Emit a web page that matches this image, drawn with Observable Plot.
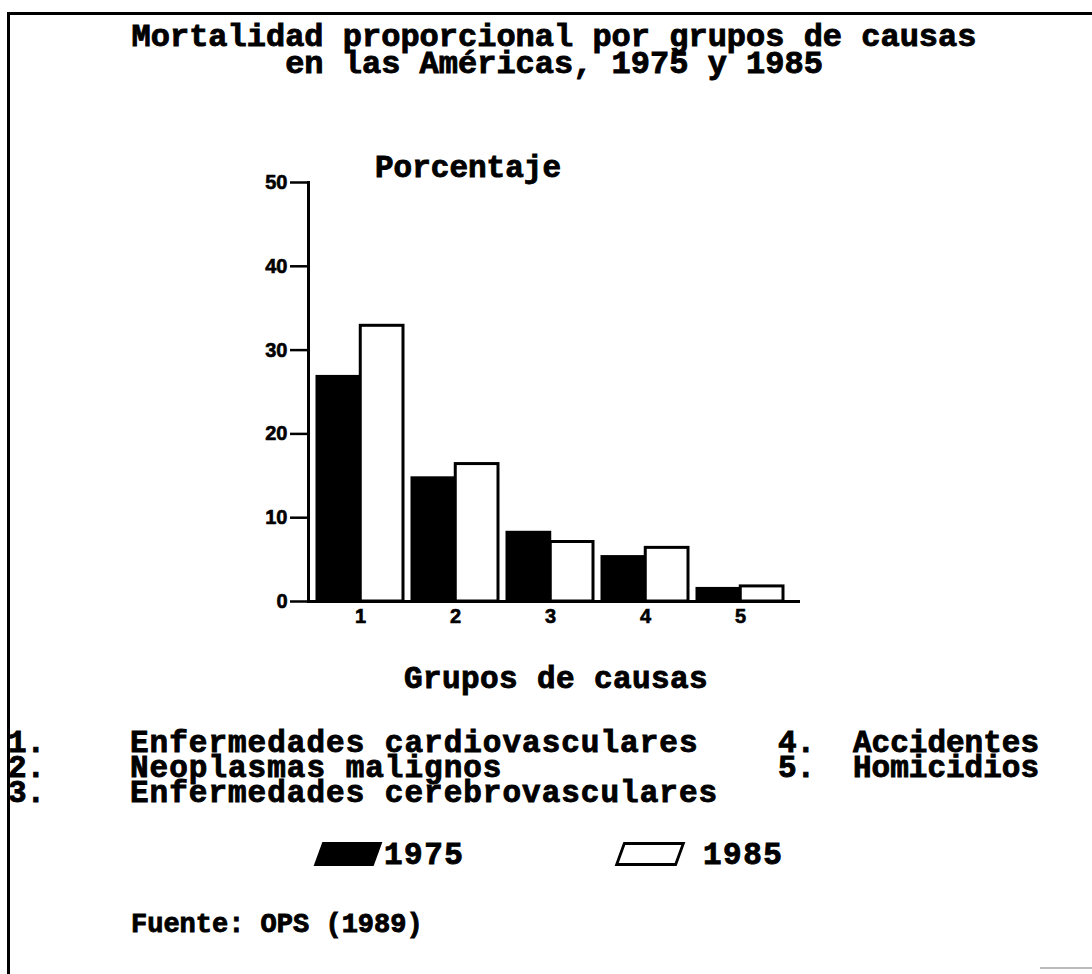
<!DOCTYPE html>
<html>
<head>
<meta charset="utf-8">
<script src="https://cdn.jsdelivr.net/npm/d3@7"></script>
<script src="https://cdn.jsdelivr.net/npm/@observablehq/plot@0.6"></script>
<style>
  html, body { margin: 0; padding: 0; background: #fff; }
  body { width: 1092px; height: 974px; position: relative; overflow: hidden; }
  .t { position: absolute; font-family: "Liberation Mono", "DejaVu Sans Mono", monospace; font-weight: bold;
       color: #000; -webkit-text-stroke: 0.9px #000; white-space: pre; }
  .c { transform: translateX(-50%); text-align: center; }
  #border { position: absolute; left: 7px; top: 12px; width: 1100px; height: 980px;
            border-left: 3px solid #000; border-top: 3px solid #000; }
  #scan { position: absolute; left: 1040px; top: 967px; width: 52px; height: 2px; background: #bbb; }
  #chart { position: absolute; left: 0; top: 160px; }
  .sw { position: absolute; height: 24px; transform: skewX(-20deg); box-sizing: border-box; }
</style>
</head>
<body>
<div id="border"></div>
<div id="scan"></div>
<div id="root"></div>
<div id="chart"></div>
<script>
// ---- data ----
const titulo = ["Mortalidad proporcional por grupos de causas", "en las Américas, 1975 y 1985"];
const yLabel = "Porcentaje";
const xLabel = "Grupos de causas";
const fuente = "Fuente: OPS (1989)";
const causas = ["1", "2", "3", "4", "5"];
const nombres = ["Enfermedades cardiovasculares", "Neoplasmas malignos", "Enfermedades cerebrovasculares", "Accidentes", "Homicidios"];
const years = ["1975", "1985"];
const v1975 = [26.8, 14.7, 8.2, 5.3, 1.5];
const v1985 = [32.9, 16.4, 7.1, 6.4, 1.8];
const yTicks = [0, 10, 20, 30, 40, 50];

const root = document.getElementById("root");
// text block; `baseline` is the first line's baseline, lh the line spacing
function txt(s, left, baseline, opts = {}) {
  const d = document.createElement("div");
  d.className = "t" + (opts.center ? " c" : "");
  d.textContent = s;
  const fs = opts.size || 31;
  const lh = opts.lh || 25;
  d.style.fontSize = fs + "px";
  d.style.lineHeight = lh + "px";
  d.style.left = left + "px";
  d.style.top = (baseline - (lh / 2 + 0.2665 * fs)) + "px";
  if (opts.ls) d.style.letterSpacing = opts.ls + "px";
  root.appendChild(d);
  return d;
}

// titles (one block, two lines)
txt(titulo.join("\n"), 554, 46, {center: true, size: 32, lh: 27});
txt(yLabel, 468, 177, {center: true});
txt(xLabel, 556, 688, {center: true, ls: 0.4});

// category list: two columns, each one block of lines
const left = nombres.slice(0, 3), right = nombres.slice(3);
txt(causas.slice(0, 3).map(c => c + ".").join("\n"), 8, 752);
txt(left.join("\n"), 130, 752, {ls: 1});
txt(causas.slice(3).map(c => c + ".").join("\n"), 778, 752);
txt(right.join("\n"), 853, 752);

// legend swatches
const sw1 = document.createElement("div");
sw1.className = "sw"; sw1.style.left = "318px"; sw1.style.top = "842px"; sw1.style.width = "60px";
sw1.style.background = "#000";
root.appendChild(sw1);
txt(years[0], 384, 864, {ls: 1.5});
const sw2 = document.createElement("div");
sw2.className = "sw"; sw2.style.left = "619px"; sw2.style.top = "842px"; sw2.style.width = "62px";
sw2.style.background = "#fff"; sw2.style.border = "3px solid #000";
root.appendChild(sw2);
txt(years[1], 703, 864, {ls: 1.5});

txt(fuente, 131, 933, {size: 27});

// ---- chart ----
const data = causas.flatMap((c, i) => [
  {causa: c, year: years[0], value: v1975[i]},
  {causa: c, year: years[1], value: v1985[i]}
]);
const W = 1092, H = 480, mL = 308, mR = 292, mT = 22, mB = 39;
const pI = 0.094, pO = 0.123;
const step = (W - mL - mR) / (causas.length - pI + 2 * pO);
const half = step * (1 - pI) / 2;

const chart = Plot.plot({
  width: W, height: H,
  marginLeft: mL, marginRight: mR, marginTop: mT, marginBottom: mB,
  style: {fontFamily: "Liberation Sans, Arial, sans-serif", fontWeight: "bold", fontSize: "20px", color: "#000", background: "transparent"},
  x: {domain: causas, paddingInner: pI, paddingOuter: pO, align: 0.36, label: null},
  y: {domain: [0, 50], label: null},
  marks: [
    Plot.barY(data.filter(d => d.year === years[0]), {x: "causa", y: "value", fill: "#000", stroke: "#000", strokeWidth: 3, insetRight: half}),
    Plot.barY(data.filter(d => d.year === years[1]), {x: "causa", y: "value", fill: "#fff", stroke: "#000", strokeWidth: 3, insetLeft: half}),
    Plot.axisY({ticks: yTicks, tickSize: 18, tickPadding: 3, strokeWidth: 2.5, label: null}),
    Plot.axisX({tickSize: 0, tickPadding: 7, label: null}),
    Plot.ruleY([0], {strokeWidth: 3}),
    Plot.frame({anchor: "left", strokeWidth: 3})
  ]
});
chart.querySelectorAll("text").forEach(t => { t.style.stroke = "#000"; t.style.strokeWidth = "0.6px"; });
document.getElementById("chart").appendChild(chart);
</script>
</body>
</html>
